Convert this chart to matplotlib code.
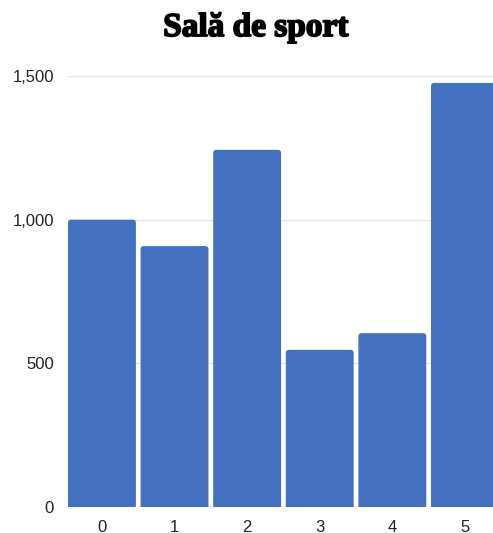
import matplotlib.pyplot as plt
from matplotlib.patches import FancyBboxPatch
from matplotlib.ticker import FuncFormatter
import matplotlib.patheffects as pe

categories = ["0", "1", "2", "3", "4", "5"]
values = [1000, 908, 1243, 547, 605, 1476]
title = "Sală de sport"

bar_color = "#4470C0"

fig = plt.figure(figsize=(4.93, 5.33), dpi=100)
ax = fig.add_axes([68 / 493, 26 / 533, 1 - 68 / 493, (507 - 76) / 533])

x = list(range(len(categories)))
bar_w = 0.935
bars = ax.bar(x, values, width=bar_w, color="none", edgecolor="none")

# rounded corners: replace plain rects with fancy boxes of the same geometry
x_px = 72.6
y_px = 431.0 / 1500
for rect in bars:
    fb = FancyBboxPatch((rect.get_x(), -40), rect.get_width(), rect.get_height() + 40,
                        boxstyle="round,pad=0,rounding_size=0.045",
                        mutation_aspect=x_px / y_px,
                        facecolor=bar_color, edgecolor="none", zorder=3)
    ax.add_patch(fb)

ax.set_xlim(-bar_w / 2, -bar_w / 2 + (493 - 68) / x_px)
ax.set_ylim(0, 1500)
ax.set_yticks([0, 500, 1000, 1500])
ax.yaxis.set_major_formatter(FuncFormatter(lambda v, p: f"{int(v):,}"))
ax.set_xticks(x)
ax.set_xticklabels(categories)
ax.grid(axis="y", color="#e6e6e6", linewidth=1, zorder=0)
ax.set_axisbelow(True)
for s in ax.spines.values():
    s.set_visible(False)
ax.tick_params(length=0, labelsize=12, labelcolor="#222222")
ax.tick_params(axis="y", pad=10)
ax.tick_params(axis="x", pad=9)
for lab in ax.get_xticklabels() + ax.get_yticklabels():
    lab.set_family("Liberation Sans")

t = fig.text(256 / 493, 1 - 36 / 533, title, ha="center", va="baseline",
             fontsize=24, fontweight="bold", family="Liberation Serif")
t.set_path_effects([pe.withStroke(linewidth=1.3, foreground="black")])

fig.savefig("out.png", dpi=100)
